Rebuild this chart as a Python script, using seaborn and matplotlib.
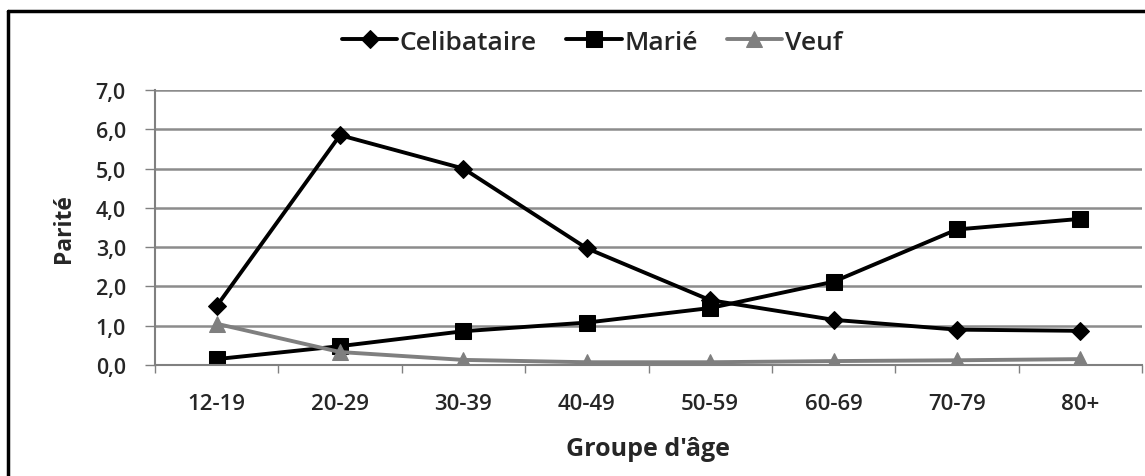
import numpy as np
import pandas as pd
import matplotlib
matplotlib.use('Agg')
import matplotlib.pyplot as plt
from matplotlib.lines import Line2D
from matplotlib.ticker import FuncFormatter, FixedLocator
import seaborn as sns

age_groups = ['12-19', '20-29', '30-39', '40-49', '50-59', '60-69', '70-79', '80+']
celibataire = [1.5, 5.85, 5.0, 2.97, 1.65, 1.15, 0.9, 0.87]
marie = [0.15, 0.48, 0.86, 1.08, 1.45, 2.12, 3.45, 3.72]
veuf = [1.05, 0.33, 0.13, 0.07, 0.07, 0.1, 0.12, 0.15]

sns.set_style('white')
plt.rcParams['font.family'] = ['Open Sans', 'DejaVu Sans']

df = pd.DataFrame({'age': np.arange(len(age_groups)),
                   'Celibataire': celibataire, 'Marié': marie, 'Veuf': veuf})

fig = plt.figure(figsize=(11.45, 4.77), dpi=100)
ax = fig.add_axes([155 / 1145, 111 / 477, 987 / 1145, 275 / 477])

styles = {'Celibataire': ('black', 'D', 9),
          'Marié': ('black', 's', 11),
          'Veuf': ('#7f7f7f', '^', 11)}
for name, (col, mk, ms) in styles.items():
    sns.lineplot(data=df, x='age', y=name, ax=ax, color=col, marker=mk,
                 markersize=ms, markeredgecolor=col, linewidth=2.8, label=name)

ax.set_xlim(-0.5, len(age_groups) - 0.5)
ax.set_ylim(0, 7)
ax.set_yticks(np.arange(0, 7.01, 1))
ax.yaxis.set_major_formatter(FuncFormatter(lambda v, p: f'{v:.1f}'.replace('.', ',')))
ax.set_xticks(np.arange(len(age_groups)))
ax.set_xticklabels(age_groups)
for lab in ax.get_xticklabels() + ax.get_yticklabels():
    lab.set_fontweight('semibold')
ax.xaxis.set_minor_locator(FixedLocator(np.arange(-0.5, len(age_groups), 1)))
ax.tick_params(axis='x', which='major', length=0, pad=20, labelsize=16)
ax.tick_params(axis='x', which='minor', length=6, width=1, color='#808080', direction='out')
ax.tick_params(axis='y', length=7, width=1, color='#808080', direction='out', labelsize=15.5, pad=14)
ax.tick_params(bottom=True, left=True, which='both')

ax.grid(axis='y', color='#8c8c8c', linewidth=1.8)
ax.set_axisbelow(True)
for s in ['top', 'right']:
    ax.spines[s].set_visible(False)
ax.spines['left'].set_color('#808080')
ax.spines['bottom'].set_color('#808080')
ax.spines['left'].set_linewidth(1.5)
ax.spines['bottom'].set_linewidth(1.5)

ax.set_xlabel("Groupe d'âge", fontsize=18, fontweight='bold', labelpad=16)
ax.set_ylabel('Parité', fontsize=16.5, fontweight='bold', labelpad=14)

leg = ax.legend(loc='center', bbox_to_anchor=(592 / 1145, 1 - 43 / 477),
                bbox_transform=fig.transFigure, ncol=3, frameon=False,
                fontsize=19, handlelength=2.1, handletextpad=0.1, columnspacing=1.1)
for t in leg.get_texts():
    t.set_fontweight('semibold')

# outer chart border
fig.add_artist(Line2D([8 / 1145, 8 / 1145], [0, 1 - 12 / 477], transform=fig.transFigure,
                      color='black', linewidth=2.5))
fig.add_artist(Line2D([8 / 1145, 1], [1 - 12 / 477, 1 - 12 / 477], transform=fig.transFigure,
                      color='black', linewidth=2.5))

fig.savefig('out.png', dpi=100)
